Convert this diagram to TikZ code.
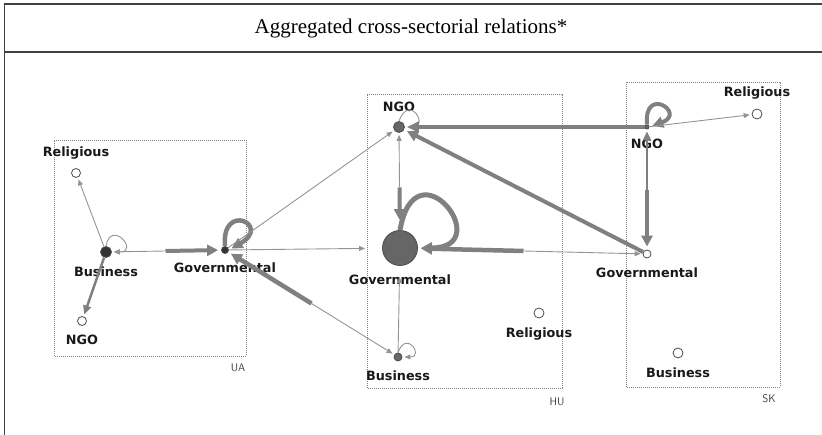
\documentclass[tikz,border=0pt]{standalone}
\usepackage{fontspec}
\setmainfont{Liberation Serif}
\newfontfamily\actorfont{DejaVu Sans}
\usetikzlibrary{arrows.meta,calc}
\definecolor{tiegray}{gray}{0.5}
\definecolor{finegray}{gray}{0.58}
\definecolor{darkfill}{gray}{0.2}
\definecolor{midfill}{gray}{0.4}

\begin{document}
\begin{tikzpicture}[x=1pt,y=1pt,
		actor/.style={circle,draw=black!70,line width=0.8pt,inner sep=0pt},
		lbl/.style={font=\actorfont\bfseries\fontsize{12.8}{13}\selectfont,inner sep=0pt,text=black!90},
		fine/.style={draw=finegray,line width=0.9pt,shorten >=2pt,-{Triangle[length=6pt,width=5pt]}},
		mid/.style={draw=tiegray,line width=2.5pt,shorten >=2pt,-{Triangle[length=9pt,width=8pt]}},
		wide/.style={draw=tiegray,line width=4pt,shorten >=3pt,-{Triangle[length=11pt,width=11pt]}},
		box/.style={draw=gray,line width=0.8pt,dash pattern=on 1pt off 1pt},
		ctry/.style={font=\sffamily\fontsize{11}{11}\selectfont,text=black!75,inner sep=0pt}]
	\useasboundingbox (0,0) rectangle (822,435);
	\def\half#1#2#3{\draw[#3] ($(#1)!.5!(#2)$) -- (#2);}
	% table frame and title
	\draw[line width=1.5pt,black!75] (4.5,0) -- (4.5,431) -- (822,431) (4.5,383) -- (822,383);
	\node[font=\fontsize{21}{25}\selectfont] (title) at (411,407) {Aggregated cross-sectorial relations*};
	% country groups
	\draw[box] (54,79) rectangle (246,295);
	\draw[box] (367,47) rectangle (562,341);
	\draw[box] (626,48) rectangle (780,353);
	\node[ctry] (ua) at (238,67) {UA};
	\node[ctry] (hu) at (557,33) {HU};
	\node[ctry] (sk) at (769,36) {SK};
	% actors
	\foreach \id/\x/\y/\d/\f/\pos/\txt in {
		uarel/76/262/9/white/above/Religious, uabus/106/183/11/darkfill/below/Business,
		uango/82/114/9/white/below/NGO, uagov/225/185/7/darkfill/below/Governmental,
		hungo/399/308/11/midfill/above/NGO, hugov/400/187/35/midfill/below/Governmental,
		hubus/398/78/8/midfill/below/Business, hurel/539/122/10/white/below/Religious,
		skngo/647/308/4/midfill/below/NGO, skrel/757/321/10/white/above/Religious,
		skgov/647/181/8/white/below/Governmental, skbus/678/82/10/white/below/Business}
		\node[actor,minimum size=\d pt,fill=\f,label={[lbl,\pos=9pt]\pos:\txt}] (\id) at (\x,\y) {};
	% UA ties
	\draw[fine] (uabus) -- (uarel);
	\draw[mid] (uabus) -- (uango);
	\draw[fine] (uabus.north) .. controls +(80:28) and +(0:28) .. (uabus.east);
	\half{uabus}{uagov}{wide}
	\half{uagov}{uabus}{fine}
	\draw[wide,line width=4.5pt] (uagov.north) .. controls +(95:45) and +(30:50) .. (uagov.east);
	\draw[fine] (uagov) -- (hungo);
	\draw[fine,shorten >=17pt] (uagov) -- (hugov);
	\half{hubus}{uagov}{wide,line width=4.5pt}
	\half{uagov}{hubus}{fine}
	% HU ties
	\half{hungo}{hugov}{wide,shorten >=10pt}
	\half{hugov}{hungo}{fine}
	\draw[wide,line width=5pt] (hugov.north) .. controls +(80:90) and +(0:80) .. (hugov.east);
	\draw[fine] (hungo.north) .. controls +(70:30) and +(0:25) .. (hungo.east);
	\draw[fine] (hubus.north) .. controls +(70:25) and +(0:22) .. (hubus.east);
	\draw[fine,shorten >=11pt] (hubus) -- (hugov);
	% SK ties
	\draw[wide] (skngo) -- (hungo);
	\draw[wide] (skgov) -- (hungo);
	\half{skgov}{hugov}{wide,line width=4.5pt}
	\half{hugov}{skgov}{fine}
	\half{skngo}{skgov}{wide,line width=4.5pt}
	\half{skgov}{skngo}{mid,line width=2pt}
	\draw[wide] (skngo.north) .. controls +(95:40) and +(20:40) .. (skngo.east);
	\draw[fine] (skngo) -- (skrel);
\end{tikzpicture}
\end{document}
